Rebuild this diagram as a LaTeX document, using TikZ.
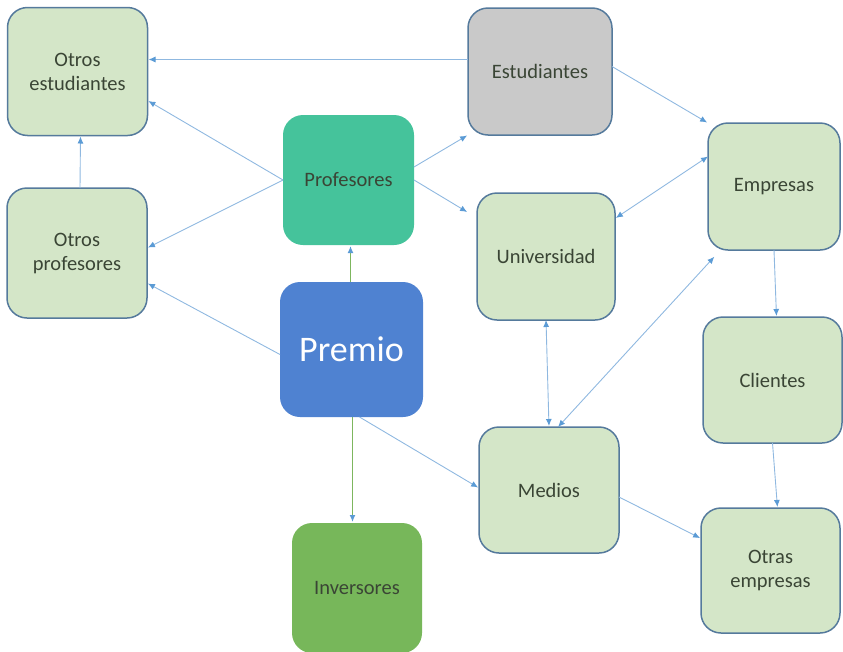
\documentclass[tikz,border=0pt]{standalone}
\usepackage{fontspec}
\setmainfont{Carlito}
\usetikzlibrary{arrows.meta}

\definecolor{verdeclaro}{HTML}{D4E6C8}
\definecolor{borde}{HTML}{557A9C}
\definecolor{texto}{HTML}{3A4535}
\definecolor{turquesa}{HTML}{45C39B}
\definecolor{azulpremio}{HTML}{4F82D1}
\definecolor{verdeinv}{HTML}{77B75A}
\definecolor{gris}{HTML}{C9C9C9}
\definecolor{lineaazul}{HTML}{8FB8E0}
\definecolor{puntaazul}{HTML}{5B9BD5}
\definecolor{lineaverde}{HTML}{7DB65E}

\begin{document}
\begin{tikzpicture}[x=1pt,y=-1pt]
\tikzset{ >={Latex[length=7pt,width=6pt,color=puntaazul]}, inner sep=0pt, outer sep=0pt,
  caja/.style={draw=borde, line width=1.5pt, fill=verdeclaro, rounded corners=20pt,
    align=center, text=texto, font=\fontsize{20.5}{24}\selectfont},
  flecha/.style={draw=lineaazul, line width=0.9pt, shorten >=1pt, shorten <=0pt},
}

\useasboundingbox (0,0) rectangle (843,651);

%%% Bloques

% columna izquierda
\node [caja, minimum width=140pt, minimum height=128pt] (otest)  at (77.5,71.5) {Otros\\estudiantes};
\node [caja, minimum width=140pt, minimum height=130pt] (otprof) at (77,253) {Otros\\profesores};

% centro
\node [caja, draw=none, fill=turquesa, minimum width=131pt, minimum height=130pt] (prof) at (348.5,180) {Profesores};
\node [caja, draw=none, fill=azulpremio, text=white, font=\fontsize{36}{40}\selectfont,
       minimum width=143pt, minimum height=135pt] (premio) at (351.5,349.5) {Premio};
\node [caja, draw=none, fill=verdeinv, minimum width=130pt, minimum height=130pt] (inv) at (357,588) {Inversores};

% Estudiantes, Universidad, Medios
\node [caja, fill=gris, minimum width=144pt, minimum height=127pt] (est) at (540,71.5) {Estudiantes};
\node [caja, minimum width=138pt, minimum height=127pt] (univ)   at (546,256.5) {Universidad};
\node [caja, minimum width=140pt, minimum height=126pt] (medios) at (549,490) {Medios};

% columna derecha
\node [caja, minimum width=132pt, minimum height=127pt] (emp)   at (774,186.5) {Empresas};
\node [caja, minimum width=139pt, minimum height=126pt] (cli)   at (772.5,380) {Clientes};
\node [caja, minimum width=139pt, minimum height=125pt] (otemp) at (770.5,570.5) {Otras\\empresas};

%%% Lineas

% Estudiantes -> Otros estudiantes
\draw [flecha, ->] ([yshift=12pt]est.west) -- ([yshift=12pt]otest.east);

% Profesores -> otros
\draw [flecha, ->] (prof.west) -- ([yshift=-29pt]otest.east);
\draw [flecha, ->] (prof.west) -- ([yshift=5pt]otprof.east);
\draw [flecha, ->] ([xshift=3pt]otprof.north) -- ([xshift=3pt]otest.south);

% Premio -> Otros profesores
\draw [flecha, ->] ([yshift=-5pt]premio.west) -- ([yshift=-30pt]otprof.east);

% Premio -> Profesores, Inversores
\draw [flecha, draw=lineaverde, line width=1.3pt, ->] ([xshift=-1pt]premio.north) -- ([xshift=-1pt]premio.north |- prof.south);
\draw [flecha, draw=lineaverde, line width=1.3pt, ->] ([xshift=1pt]premio.south) -- ([xshift=1pt]premio.south |- inv.north);

% Premio -> Medios
\draw [flecha, ->] ([xshift=8pt]premio.south) -- ([yshift=2pt]medios.west);

% Profesores -> Estudiantes, Universidad
\draw [flecha, ->] ([yshift=13pt]prof.east) -- (est.south west);
\draw [flecha, ->] (prof.east) -- ([xshift=-9pt,yshift=44pt]univ.west);

% Estudiantes -> Empresas
\draw [flecha, ->] ([yshift=5pt]est.east) -- (emp.north west);

% Empresas <-> Universidad, Medios
\draw [flecha, <->] ([yshift=30pt]emp.west) -- ([yshift=38pt]univ.east);
\draw [flecha, <->] ([xshift=9pt]medios.north) -- ([xshift=7pt,yshift=-6pt]emp.south west);

% Universidad <-> Medios
\draw [flecha, <->] (univ.south) -- (medios.north);

% Empresas -> Clientes -> Otras empresas
\draw [flecha, ->] (emp.south) -- ([xshift=4pt]cli.north);
\draw [flecha, ->] (cli.south) -- ([xshift=7pt]otemp.north);

% Medios -> Otras empresas
\draw [flecha, ->] ([yshift=-7pt]medios.east) -- ([yshift=32pt]otemp.west);

\end{tikzpicture}
\end{document}
